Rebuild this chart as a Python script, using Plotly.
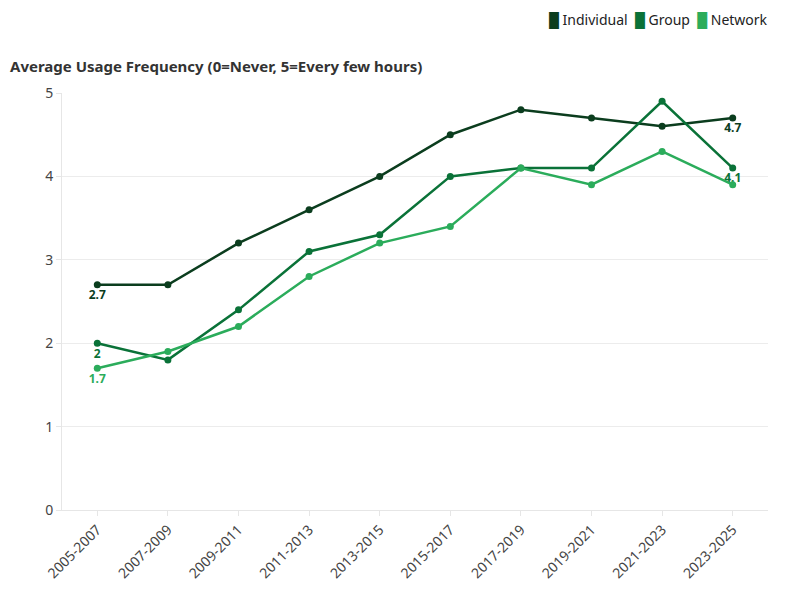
import plotly.graph_objects as go

# periods and average usage (0=Never, 5=Every few hours)
periodos = ["2005-2007", "2007-2009", "2009-2011", "2011-2013", "2013-2015",
            "2015-2017", "2017-2019", "2019-2021", "2021-2023", "2023-2025"]
individual = [2.7, 2.7, 3.2, 3.6, 4.0, 4.5, 4.8, 4.7, 4.6, 4.7]
group = [2.0, 1.8, 2.4, 3.1, 3.3, 4.0, 4.1, 4.1, 4.9, 4.1]
network = [1.7, 1.9, 2.2, 2.8, 3.2, 3.4, 4.1, 3.9, 4.3, 3.9]

nombres = ["Individual", "Group", "Network"]
colores = ["#0b3d1e", "#0a7238", "#2bac5b"]
series = [individual, group, network]

fuente = "Noto Sans"

fig = go.Figure()

for i in range(0, len(series)):
    vals = series[i]
    # labels only on first and last point (network's last one is hidden under group's)
    textos = [""] * len(vals)
    textos[0] = "%g" % vals[0]
    if nombres[i] != "Network":
        textos[-1] = "%g" % vals[-1]
    fig.add_trace(go.Scatter(
        x=periodos, y=vals, mode="lines+markers+text",
        name=nombres[i], showlegend=False,
        line=dict(color=colores[i], width=2.5),
        marker=dict(color=colores[i], size=7),
        text=textos, textposition="bottom center",
        textfont=dict(family=fuente, size=12, color=colores[i], weight="bold"),
        cliponaxis=False,
    ))

# legend drawn as one annotation (squares close to the text, like the original)
partes = []
for i in range(0, len(nombres)):
    partes.append('<span style="color:%s">█</span> %s' % (colores[i], nombres[i]))
leyenda = "&nbsp;&nbsp;".join(partes)

fig.add_annotation(
    text=leyenda, xref="paper", x=1.003, xanchor="right",
    yref="paper", y=1 + (85 - 12) / 417, yanchor="middle",
    showarrow=False, font=dict(family=fuente, size=14, color="#222222"),
)

# the page adds an 8px body margin, so margins are shifted by 8px
fig.update_layout(
    width=794, height=596,
    margin=dict(l=54, r=34, t=85, b=94),
    plot_bgcolor="white", paper_bgcolor="white",
    font=dict(family=fuente, size=14, color="#333333"),
    title=dict(text="<b>Average Usage Frequency (0=Never, 5=Every few hours)</b>",
               xref="container", x=2 / 794, xanchor="left",
               yref="container", y=1 - 59 / 596, yanchor="middle",
               pad=dict(l=0, r=0, t=0, b=0),
               font=dict(family=fuente, size=15, color="#333333")),
    showlegend=False,
)

fig.update_xaxes(
    type="category", range=[-0.5, 9.5], tickangle=-45, automargin=False,
    showgrid=False, showline=True, linecolor="#e6e6e6", linewidth=1,
    ticks="outside", ticklen=5, tickcolor="#e6e6e6",
    tickfont=dict(family=fuente, size=14, color="#444444"),
)
fig.update_yaxes(
    range=[0, 5], dtick=1, showgrid=True, gridcolor="#ececec", automargin=False,
    zeroline=False, showline=True, linecolor="#e6e6e6", linewidth=1,
    ticks="outside", ticklen=5, tickcolor="#e6e6e6",
    tickfont=dict(family=fuente, size=14, color="#444444"),
)

fig.write_html("out.html")
